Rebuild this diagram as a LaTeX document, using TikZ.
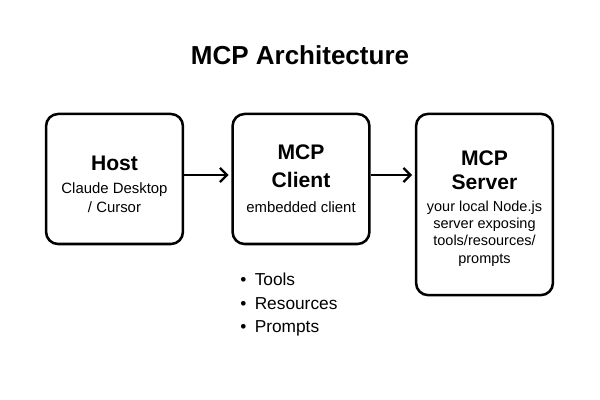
\documentclass[tikz,border=0pt]{standalone}
\usepackage{fontspec}
\setmainfont{Liberation Sans}
\usetikzlibrary{arrows.meta, positioning}
\newcommand{\hdfont}{\fontsize{15}{19}\selectfont\bfseries}

\begin{document}
\begin{tikzpicture}[x=0.025cm, y=-0.025cm,
    block/.style={draw, line width=1.8pt, rounded corners=0.3cm, minimum width=3.42cm, align=center},
    con/.style={line width=1.6pt, arrows = {-Straight Barb[length=5pt, width=10pt, line width=1.6pt]}}]

    \useasboundingbox (0,0) rectangle (600,400);

    %% title
    \node[font=\fontsize{18.5}{22}\selectfont\bfseries] (title) at (300,55) {MCP Architecture};

    %% boxes
    % Nodes
    \node[block, minimum height=3.25cm, font=\fontsize{10.6}{13.5}\selectfont] (host) at (114.5,179)
        {\rule{0pt}{18pt}\hdfont Host\\[3pt] Claude Desktop\\/ Cursor};
    \node[block, minimum height=3.25cm, font=\fontsize{10.6}{13.5}\selectfont] (client) at (301,179)
        {\hdfont MCP\\[6pt] \hdfont Client\\[4.5pt] embedded client};
    \node[block, minimum height=4.53cm, font=\fontsize{10.3}{12.3}\selectfont] (server) at (484.5,204.5)
        {\rule{0pt}{16pt}\hdfont MCP\\[5pt] \hdfont Server\\[3pt] your local Node.js\\server exposing\\tools/resources/\\prompts};

    % Connections
    \draw[con] ([yshift=0.1cm]host.east) -- ([xshift=-2pt, yshift=0.1cm]client.west);
    \draw[con] ([yshift=0.1cm]client.east) -- ([xshift=-2pt, yshift=0.1cm]client.east -| server.west);

    %% capabilities
    \node[anchor=west, align=left, inner sep=0pt, font=\fontsize{12.3}{16.7}\selectfont] (caps) at (240,305)
        {\textbullet\hspace{6pt}Tools\\\textbullet\hspace{6pt}Resources\\\textbullet\hspace{6pt}Prompts};
\end{tikzpicture}
\end{document}
